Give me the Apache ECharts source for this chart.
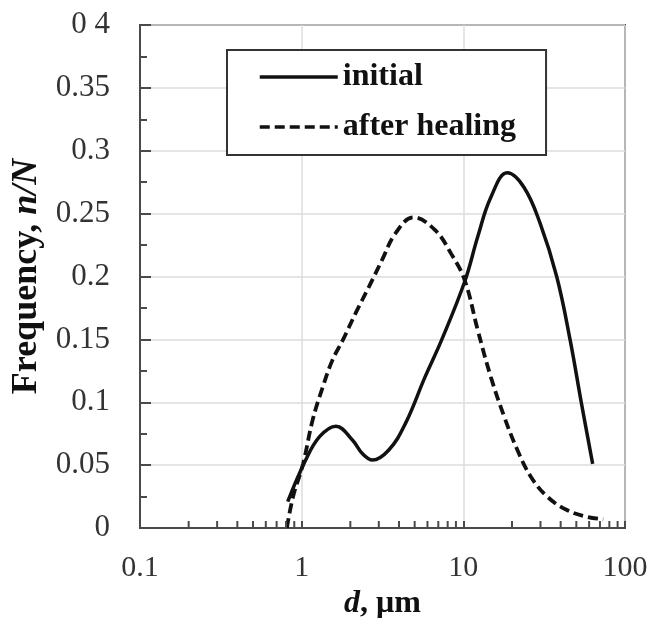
<!DOCTYPE html>
<html>
<head>
<meta charset="utf-8">
<script src="https://cdn.jsdelivr.net/npm/echarts@6/dist/echarts.min.js"></script>
<style>
  html, body { margin: 0; padding: 0; background: #fff; }
  #chart { width: 652px; height: 618px; }
</style>
</head>
<body>
<div id="chart"></div>
<script>
// Particle size distribution: diameter d (µm, log scale) vs frequency n/N
const seriesNames = ['initial', 'after healing'];

const initialD = [0.82, 1.05, 1.29, 1.63, 2.06, 2.38, 2.74, 3.46, 4.38, 5.79, 7.31, 10.2, 12.3, 14.8, 18.7, 23.7, 29.9, 37.8, 45.7, 53.8, 63.1];
const initialN = [0.021, 0.053, 0.0726, 0.081, 0.070, 0.059, 0.054, 0.062, 0.083, 0.120, 0.149, 0.196, 0.232, 0.263, 0.2825, 0.271, 0.242, 0.200, 0.150, 0.099, 0.051];

const healedD = [0.81, 0.885, 1.02, 1.17, 1.35, 1.55, 1.79, 2.16, 2.61, 3.14, 3.79, 4.91, 6.67, 8.42, 10.2, 12.3, 14.8, 17.9, 21.6, 26.1, 33, 43.7, 57.7, 73.3];
const healedN = [0, 0.025, 0.051, 0.086, 0.112, 0.1335, 0.149, 0.171, 0.192, 0.213, 0.234, 0.247, 0.237, 0.218, 0.197, 0.157, 0.120, 0.0885, 0.062, 0.041, 0.025, 0.0143, 0.009, 0.0069];

const xTickValues = [0.1, 1, 10, 100];
const xTickLabels = ['0.1', '1', '10', '100'];
const yTickValues = [0, 0.05, 0.1, 0.15, 0.2, 0.25, 0.3, 0.35, 0.4];
const yTickLabels = ['0', '0.05', '0.1', '0.15', '0.2', '0.25', '0.3', '0.35', '0 4'];

const SERIF = "'Liberation Serif', 'Times New Roman', serif";
const AXIS_COLOR = '#4a4a4a';
const GRID_COLOR = '#dcdcdc';

function pairs(xs, ys) { return xs.map((x, i) => [x, ys[i]]); }
function labelFor(values, labels, v) {
  const i = values.findIndex(t => Math.abs(t - v) < 1e-9 * Math.max(1, Math.abs(t)));
  return i >= 0 ? labels[i] : '';
}

const chart = echarts.init(document.getElementById('chart'), null, { renderer: 'canvas' });

const option = {
  backgroundColor: '#fff',
  animation: false,
  grid: {
    left: 140, right: 27, top: 25, bottom: 90,
    containLabel: false,
    outerBoundsMode: 'none',
    show: true, borderColor: AXIS_COLOR, borderWidth: 2, backgroundColor: 'transparent'
  },
  legend: {
    orient: 'vertical',
    left: 227, top: 50,
    padding: [11, 30, 12, 31],
    itemGap: 18,
    itemWidth: 78, itemHeight: 20,
    borderColor: '#333', borderWidth: 2,
    backgroundColor: '#fff',
    data: seriesNames,
    itemStyle: { opacity: 0 },
    lineStyle: { width: 3.5 },
    textStyle: { fontFamily: SERIF, fontSize: 32, fontWeight: 'bold', color: '#111', lineHeight: 32 }
  },
  xAxis: {
    type: 'log', logBase: 10, min: 0.1, max: 100,
    name: '{i|d}{b|, μm}',
    nameLocation: 'middle', nameGap: 60,
    nameTextStyle: {
      rich: {
        i: { fontFamily: SERIF, fontSize: 32, fontWeight: 'bold', fontStyle: 'italic', color: '#111' },
        b: { fontFamily: SERIF, fontSize: 32, fontWeight: 'bold', color: '#111' }
      }
    },
    axisLine: { show: true, onZero: false, lineStyle: { color: AXIS_COLOR, width: 2 } },
    axisTick: { show: true, inside: true, length: 7, lineStyle: { color: AXIS_COLOR, width: 2 } },
    axisLabel: {
      margin: 25, fontFamily: SERIF, fontSize: 30, color: '#333',
      formatter: v => labelFor(xTickValues, xTickLabels, v)
    },
    splitLine: { show: true, lineStyle: { color: GRID_COLOR, width: 1.5 } }
  },
  yAxis: {
    type: 'value', min: 0, max: 0.4, interval: 0.05,
    name: '{b|Frequency, }{i|n/N}',
    nameLocation: 'middle', nameGap: 94, nameRotate: 90,
    nameTextStyle: {
      rich: {
        i: { fontFamily: SERIF, fontSize: 36, fontWeight: 'bold', fontStyle: 'italic', color: '#111' },
        b: { fontFamily: SERIF, fontSize: 36, fontWeight: 'bold', color: '#111' }
      }
    },
    axisLine: { show: true, lineStyle: { color: AXIS_COLOR, width: 2 } },
    axisTick: { show: true, inside: true, length: 11, lineStyle: { color: AXIS_COLOR, width: 2 } },
    minorTick: { show: true, splitNumber: 2, length: 7, lineStyle: { color: AXIS_COLOR, width: 2 } },
    axisLabel: {
      margin: 30, fontFamily: SERIF, fontSize: 31, color: '#333',
      formatter: v => labelFor(yTickValues, yTickLabels, v)
    },
    splitLine: { show: true, lineStyle: { color: GRID_COLOR, width: 1.5 } }
  },
  series: [
    {
      name: seriesNames[0], type: 'line', smooth: 0.4, symbol: 'none',
      data: pairs(initialD, initialN),
      lineStyle: { color: '#111', width: 3.5 },
      itemStyle: { color: '#111' }
    },
    {
      name: seriesNames[1], type: 'line', smooth: 0.4, symbol: 'none',
      data: pairs(healedD, healedN),
      lineStyle: { color: '#111', width: 3.8, type: [10, 5] },
      itemStyle: { color: '#111' }
    }
  ]
};

chart.setOption(option);

// Minor ticks of the log axis at 2..9 times each decade, placed via the axis scale
function drawLogMinorTicks() {
  const y0 = chart.convertToPixel({ yAxisIndex: 0 }, 0);
  const elements = [];
  [0.1, 1, 10].forEach(decade => {
    for (let k = 2; k <= 9; k++) {
      const x = chart.convertToPixel({ xAxisIndex: 0 }, decade * k);
      elements.push({
        type: 'line', silent: true, z: 10,
        shape: { x1: x, y1: y0, x2: x, y2: y0 - 7 },
        style: { stroke: AXIS_COLOR, lineWidth: 2 }
      });
    }
  });
  chart.setOption({ graphic: elements });
}
drawLogMinorTicks();
</script>
</body>
</html>
